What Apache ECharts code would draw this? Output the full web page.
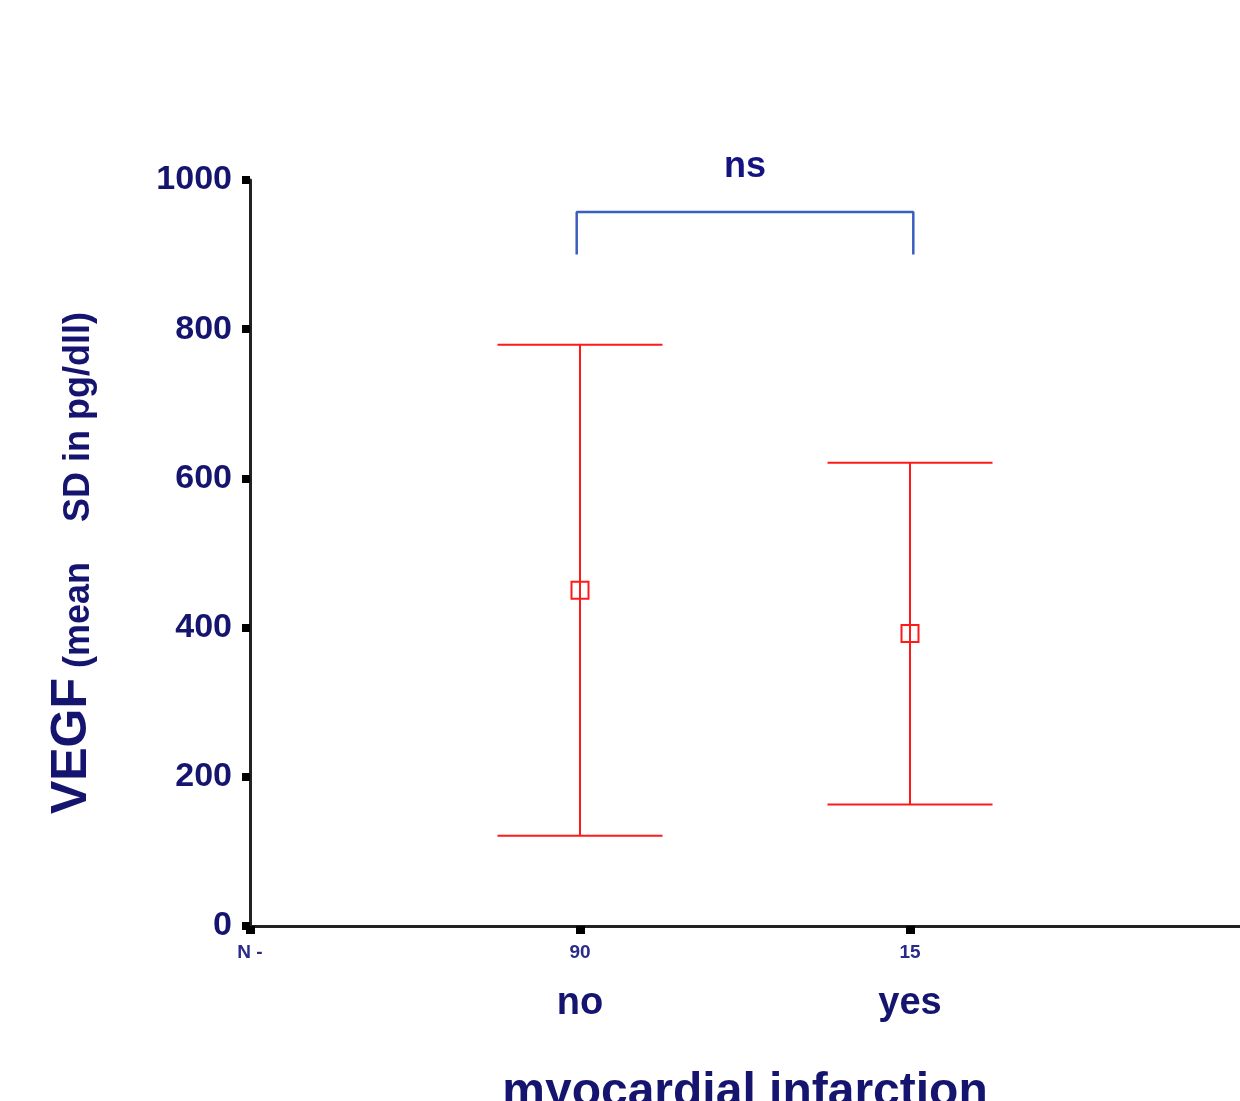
<!DOCTYPE html>
<html>
<head>
<meta charset="utf-8">
<script src="https://cdn.jsdelivr.net/npm/echarts@6/dist/echarts.min.js"></script>
<style>
html,body{margin:0;padding:0;background:#fff;overflow:hidden;}
#chart{width:1240px;height:1101px;}
</style>
</head>
<body>
<div id="chart"></div>
<script>
// ---- data ----
var groupPositions = [1, 2];
var groupLabels = ['no', 'yes'];
var groupN = ['90', '15'];
var means = [450, 392];
var sds = [329, 229];
var yTicks = [0, 200, 400, 600, 800, 1000];
var bracketX = [0.99, 2.01];
var bracketLow = 900;
var bracketHigh = 957;
var bracketText = 'ns';

var NAVY = '#15156f';
var FONT = '"Liberation Sans", Arial, Helvetica, sans-serif';

var errData = groupPositions.map(function (x, i) { return [x, means[i], sds[i]]; });
var bracketData = [
  [bracketX[0], bracketLow], [bracketX[0], bracketHigh],
  [bracketX[1], bracketHigh], [bracketX[1], bracketLow]
];

var chart = echarts.init(document.getElementById('chart'), null, { renderer: 'canvas', width: 1240, height: 1101 });

chart.setOption({
  backgroundColor: '#ffffff',
  animation: false,
  grid: { left: 250, top: 180, width: 990, height: 746, containLabel: false, outerBoundsMode: 'none' },
  xAxis: {
    type: 'value',
    min: 0, max: 3, interval: 1,
    name: 'myocardial infarction',
    nameLocation: 'middle',
    nameGap: 139,
    nameTextStyle: { color: NAVY, fontFamily: FONT, fontWeight: 'bold', fontSize: 48, lineHeight: 56 },
    axisLine: { show: true, lineStyle: { color: '#222', width: 3 } },
    axisTick: { show: true, customValues: [0, 1, 2], length: 8, lineStyle: { color: '#000', width: 9 } },
    splitLine: { show: false },
    axisLabel: {
      customValues: [0, 1, 2],
      margin: 16,
      formatter: function (v) {
        if (v === 0) return '{n|N -}';
        var i = groupPositions.indexOf(v);
        if (i < 0) return '';
        return '{n|' + groupN[i] + '}\n{c|' + groupLabels[i] + '}';
      },
      rich: {
        n: { color: '#2a2a8c', fontFamily: FONT, fontWeight: 'bold', fontSize: 19, lineHeight: 22 },
        c: { color: NAVY, fontFamily: FONT, fontWeight: 'bold', fontSize: 38, lineHeight: 80 }
      }
    }
  },
  yAxis: {
    type: 'value',
    min: 0, max: 1000, interval: 200,
    name: '{big|VEGF}{small| (mean    SD in pg/dll)  }',
    nameLocation: 'middle',
    nameRotate: 90,
    nameGap: 153,
    nameTextStyle: {
      rich: {
        big: { color: NAVY, fontFamily: FONT, fontWeight: 'bold', fontSize: 50, lineHeight: 56, verticalAlign: 'bottom' },
        small: { color: NAVY, fontFamily: FONT, fontWeight: 'bold', fontSize: 36, lineHeight: 54, verticalAlign: 'bottom' }
      }
    },
    axisLine: { show: true, lineStyle: { color: '#222', width: 3 } },
    axisTick: { show: true, length: 8, lineStyle: { color: '#000', width: 8 } },
    splitLine: { show: false },
    axisLabel: {
      margin: 18,
      color: NAVY, fontFamily: FONT, fontWeight: 'bold', fontSize: 34,
      customValues: yTicks,
      formatter: function (v) { return String(v); }
    }
  },
  series: [
    {
      type: 'custom',
      name: 'VEGF',
      data: errData,
      clip: false,
      renderItem: function (params, api) {
        var x = api.value(0), m = api.value(1), s = api.value(2);
        var top = api.coord([x, m + s]);
        var bot = api.coord([x, m - s]);
        var mid = api.coord([x, m]);
        var capL = api.coord([x - 0.25, m])[0];
        var capR = api.coord([x + 0.25, m])[0];
        var st = { stroke: '#ff1a1a', lineWidth: 2, fill: null };
        return {
          type: 'group',
          children: [
            { type: 'line', shape: { x1: top[0], y1: top[1], x2: bot[0], y2: bot[1] }, style: st },
            { type: 'line', shape: { x1: capL, y1: top[1], x2: capR, y2: top[1] }, style: st },
            { type: 'line', shape: { x1: capL, y1: bot[1], x2: capR, y2: bot[1] }, style: st },
            { type: 'rect', shape: { x: mid[0] - 8.5, y: mid[1] - 8.5, width: 17, height: 17 }, style: { stroke: '#ff1a1a', lineWidth: 2, fill: 'none' } }
          ]
        };
      }
    },
    {
      type: 'line',
      data: bracketData,
      symbol: 'none',
      lineStyle: { color: '#3a5ec0', width: 2.5 },
      silent: true
    },
    {
      type: 'scatter',
      data: [[(bracketX[0] + bracketX[1]) / 2, bracketHigh]],
      symbolSize: 0,
      itemStyle: { opacity: 1 },
      label: {
        show: true,
        position: 'top',
        distance: 27,
        formatter: bracketText,
        opacity: 1,
        color: '#141480', fontFamily: FONT, fontWeight: 'bold', fontSize: 36, lineHeight: 36
      },
      silent: true
    }
  ]
});
</script>
</body>
</html>
